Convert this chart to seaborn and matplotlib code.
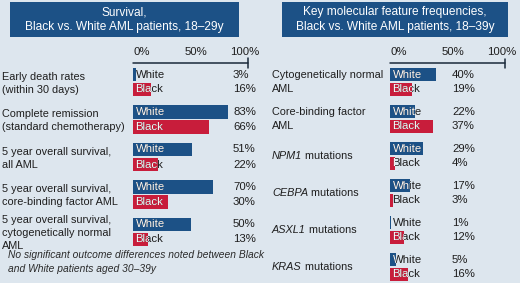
import matplotlib
matplotlib.use("Agg")
import matplotlib.pyplot as plt
import matplotlib.transforms as mtransforms
from matplotlib.patches import Rectangle
import pandas as pd
import seaborn as sns

# ---------------- data ----------------
groups = ["White", "Black"]

left_title = "Survival,\nBlack vs. White AML patients, 18\u201329y"
left_labels = [
    "Early death rates\n(within 30 days)",
    "Complete remission\n(standard chemotherapy)",
    "5 year overall survival,\nall AML",
    "5 year overall survival,\ncore-binding factor AML",
    "5 year overall survival,\ncytogenetically normal\nAML",
]
left_white = [3, 83, 51, 70, 50]
left_black = [16, 66, 22, 30, 13]

right_title = "Key molecular feature frequencies,\nBlack vs. White AML patients, 18\u201339y"
right_italic = ["", "", "NPM1", "CEBPA", "ASXL1", "KRAS"]
right_plain = ["Cytogenetically normal\nAML", "Core-binding factor\nAML",
               " mutations", " mutations", " mutations", " mutations"]
right_white = [40, 22, 29, 17, 1, 5]
right_black = [19, 37, 4, 3, 12, 16]

tick_labels = ["0%", "50%", "100%"]
footnote = ("No significant outcome differences noted between Black\n"
            "and White patients aged 30\u201339y")

# ---------------- style ----------------
BG = "#dde6ee"
BLUE = "#1c5186"
RED = "#c81d3b"
DARK = "#1e1e1e"
FONT = "Liberation Sans"
FS = 8.2
FS_LAB = 7.8

sns.set_theme(style="white")
plt.rcParams["font.family"] = [FONT, "DejaVu Sans"]

W, H = 520, 283
fig = plt.figure(figsize=(W / 100, H / 100), dpi=100, facecolor=BG)


def fx(px):
    return px / W


def fy(py):
    return 1 - py / H


def make_df(labels, white, black):
    rows = []
    for lab, w, b in zip(labels, white, black):
        rows.append({"metric": lab, "group": "White", "value": w})
        rows.append({"metric": lab, "group": "Black", "value": b})
    return pd.DataFrame(rows)


def panel(ax_rect, ylim, keys, white, black, val_px):
    ax = fig.add_axes(ax_rect)
    df = make_df(keys, white, black)
    sns.barplot(data=df, x="value", y="metric", hue="group", hue_order=groups,
                palette={"White": BLUE, "Black": RED}, saturation=1,
                width=0.8, gap=0.08, orient="h", legend=False, ax=ax,
                errorbar=None, linewidth=0, edgecolor="none")
    ax.set_xlim(0, 100)
    ax.set_ylim(*ylim)
    ax.axis("off")
    # axis line with end cap
    xt = ax.get_xaxis_transform()
    ax.plot([0, 100], [1, 1], color="#1a2a3a", lw=1.1, transform=xt, clip_on=False)
    cap = 4.5 / (ax_rect[3] * H)
    ax.plot([100, 100], [1 - cap, 1 + cap], color="#1a2a3a", lw=1.1,
            transform=xt, clip_on=False)
    # tick labels
    tt = mtransforms.offset_copy(xt, fig, x=0, y=11, units="dots")
    for pos, lab in zip([8, 55, 97], tick_labels):
        ax.text(pos, 1, lab, transform=tt, ha="center", va="center",
                fontsize=FS, color=DARK)
    # bar labels & values
    off = mtransforms.offset_copy(ax.transData, fig, x=2.5, y=0, units="dots")
    vt = mtransforms.blended_transform_factory(fig.transFigure, ax.transData)
    for gi, cont in enumerate(ax.containers):
        for bar in cont.patches:
            yc = bar.get_y() + bar.get_height() / 2
            x0 = bar.get_x()
            ax.text(x0, yc, groups[gi], transform=off, ha="left", va="center",
                    fontsize=FS, color=DARK, clip_on=False)
            t = ax.text(x0, yc, groups[gi], transform=off, ha="left", va="center",
                        fontsize=FS, color="white", clip_on=True)
            t.set_clip_path(bar)
            ax.text(fx(val_px), yc, f"{bar.get_width():.0f}%", transform=vt,
                    ha="left", va="center", fontsize=FS, color=DARK)
    return ax


# ---------------- left panel ----------------
lp_top, lp_bot, l_c0, l_step = 63, 250, 82, 37.5
ax1 = panel([fx(133), fy(lp_bot), 115 / W, (lp_bot - lp_top) / H],
            ((lp_bot - l_c0) / l_step, (lp_top - l_c0) / l_step),
            left_labels, left_white, left_black, 233)
lt = mtransforms.blended_transform_factory(fig.transFigure, ax1.transData)
for i, lab in enumerate(left_labels):
    ax1.text(fx(2), i + 0.03, lab, transform=lt, ha="left", va="center",
             fontsize=FS_LAB, color=DARK, linespacing=1.4)

# ---------------- right panel ----------------
rp_top, rp_bot, r_c0, r_step = 63, 283, 82, 37
right_keys = [a + b for a, b in zip(right_italic, right_plain)]
ax2 = panel([fx(390), fy(rp_bot), 115 / W, (rp_bot - rp_top) / H],
            ((rp_bot - r_c0) / r_step, (rp_top - r_c0) / r_step),
            right_keys, right_white, right_black, 452)
rt = mtransforms.blended_transform_factory(fig.transFigure, ax2.transData)
for i, (it, pl) in enumerate(zip(right_italic, right_plain)):
    if it:
        t = ax2.text(fx(272), i, it, transform=rt, ha="left", va="center",
                     fontsize=FS_LAB, color=DARK, style="italic")
        ax2.annotate(pl, xy=(1, 0), xycoords=t, ha="left", va="bottom",
                     fontsize=FS_LAB, color=DARK, annotation_clip=False)
    else:
        ax2.text(fx(272), i, pl, transform=rt, ha="left", va="center",
                 fontsize=FS_LAB, color=DARK, linespacing=1.4)

# ---------------- title boxes ----------------
for (x0, x1), title in [((10, 239), left_title), ((282, 508), right_title)]:
    fig.patches.append(Rectangle((fx(x0), fy(37)), (x1 - x0) / W, 35 / H,
                                 transform=fig.transFigure, facecolor=BLUE,
                                 edgecolor="none", zorder=0))
    fig.text(fx((x0 + x1) / 2), fy(19.5), title, ha="center", va="center",
             fontsize=8.6, color="white", linespacing=1.25)

# ---------------- footnote ----------------
fig.text(fx(8), fy(262), footnote, ha="left", va="center", fontsize=7.4,
         style="italic", color="#2a2a2a", linespacing=1.4)

fig.savefig("out.png", dpi=100, facecolor=BG)
